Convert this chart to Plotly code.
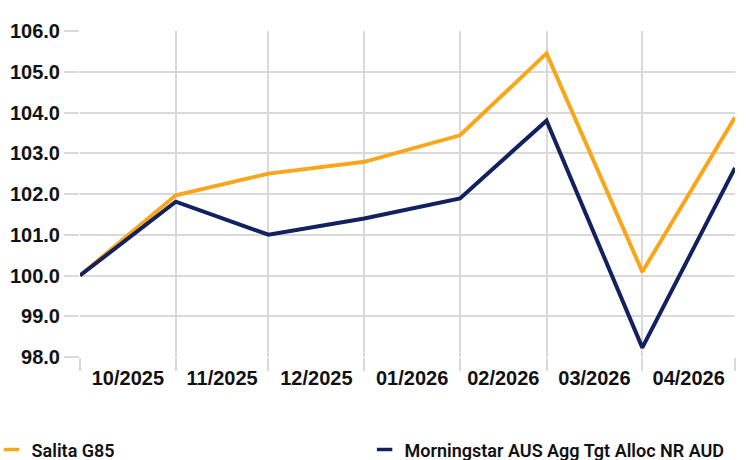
import plotly.graph_objects as go

dates = ["2025-10-01", "2025-11-01", "2025-12-01", "2026-01-01",
         "2026-02-01", "2026-03-01", "2026-04-01", "2026-05-01"]
salita = [100.0, 101.97, 102.50, 102.79, 103.44, 105.45, 100.09, 103.88]
morningstar = [100.0, 101.81, 101.00, 101.40, 101.89, 103.80, 98.23, 102.64]
series_names = ["Salita G85", "Morningstar AUS Agg Tgt Alloc NR AUD"]
colors = ["#FAA61A", "#13215E"]
legend_ids = ["legend", "legend2"]

fig = go.Figure()
for name, vals, col, lg in zip(series_names, [salita, morningstar], colors, legend_ids):
    fig.add_trace(go.Scatter(x=dates, y=vals, mode="lines", name=name,
                             line=dict(color=col, width=4), showlegend=False))
    fig.add_trace(go.Scatter(x=[None], y=[None], mode="markers", name=name, legend=lg,
                             marker=dict(symbol="line-ew", size=11, color=col,
                                         line=dict(color=col, width=3.5))))

grid = "#D9D9D9"
tickfont = dict(family="Liberation Sans, Arial, sans-serif", size=20, color="#111111", weight="bold")
legfont = dict(family="Roboto, Liberation Sans, sans-serif", size=18, color="#111111", weight=600)
fig.update_layout(
    width=747, height=460,
    margin=dict(l=80, r=12, t=31, b=103, autoexpand=False),
    plot_bgcolor="white", paper_bgcolor="white",
    xaxis=dict(type="date", range=["2025-10-01", "2026-05-01"], dtick="M1",
               tick0="2025-10-01", tickformat="%m/%Y", ticklabelmode="period",
               showgrid=True, gridcolor=grid, gridwidth=1.5,
               ticks="outside", ticklen=13, tickcolor=grid, tickwidth=1.5,
               ticklabelstandoff=-10,
               tickfont=tickfont, zeroline=False, showline=False),
    yaxis=dict(range=[98, 106], dtick=1, tickformat=".1f",
               showgrid=True, gridcolor=grid, gridwidth=1.5,
               ticks="outside", ticklen=15, tickcolor=grid, tickwidth=1.5,
               tickfont=tickfont, zeroline=False, showline=False),
    legend=dict(orientation="h", x=-0.135, xanchor="left", y=-0.285, yanchor="middle",
                font=legfont, bgcolor="rgba(0,0,0,0)"),
    legend2=dict(orientation="h", x=0.4345, xanchor="left", y=-0.285, yanchor="middle",
                 font=legfont, bgcolor="rgba(0,0,0,0)"),
)
fig.write_html("out.html", config={"displayModeBar": False},
               post_script="document.body.style.margin='0';")
